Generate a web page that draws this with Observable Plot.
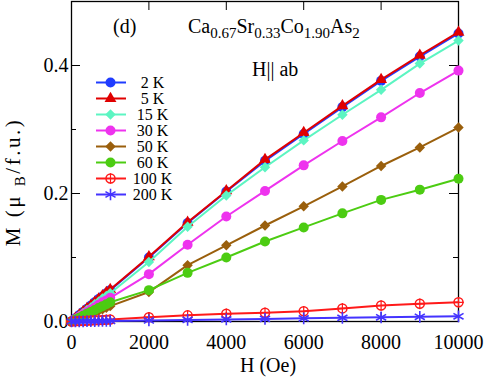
<!DOCTYPE html>
<html><head><meta charset="utf-8">
<script src="https://cdn.jsdelivr.net/npm/d3@7"></script>
<script src="https://cdn.jsdelivr.net/npm/@observablehq/plot@0.6"></script>
<style>
body{margin:0;background:#fff;}
#wrap{position:relative;width:485px;height:380px;font-family:"Liberation Serif","Times New Roman",serif;color:#000;}
#wrap svg{position:absolute;max-width:none !important;}
.ann{position:absolute;white-space:nowrap;line-height:1;font-size:20px;}
.ann sub{font-size:15px;vertical-align:baseline;position:relative;top:5px;}
</style></head>
<body><div id="wrap"></div>
<script>
// ---- data ----
const fields = [0,100,200,300,400,500,600,700,800,900,1000,2000,3000,4000,5000,6000,7000,8000,9000,10000];
const seriesNames = ["2 K","5 K","15 K","30 K","50 K","60 K","100 K","200 K"];
const m2K   = [0,0.005,0.010,0.015,0.020,0.025,0.030,0.035,0.039,0.044,0.049,0.100,0.154,0.203,0.251,0.293,0.335,0.376,0.414,0.450];
const m5K   = [0,0.005,0.010,0.015,0.020,0.025,0.030,0.035,0.040,0.045,0.050,0.101,0.155,0.204,0.253,0.295,0.337,0.378,0.416,0.452];
const m15K  = [0,0.0045,0.009,0.0135,0.018,0.022,0.027,0.031,0.036,0.040,0.044,0.093,0.148,0.197,0.241,0.283,0.323,0.362,0.403,0.439];
const m30K  = [0,0.0037,0.0074,0.011,0.0148,0.0185,0.022,0.026,0.030,0.033,0.037,0.074,0.120,0.164,0.204,0.244,0.282,0.319,0.357,0.392];
const m50K  = [0,0.0024,0.0048,0.0072,0.0096,0.012,0.0144,0.0168,0.019,0.0215,0.024,0.046,0.088,0.119,0.150,0.180,0.211,0.243,0.272,0.303];
const m60K  = [0,0.003,0.006,0.009,0.012,0.015,0.018,0.021,0.024,0.027,0.030,0.049,0.076,0.100,0.125,0.147,0.169,0.190,0.206,0.223];
const m100K = [0,0.0003,0.0006,0.0009,0.0012,0.0015,0.0018,0.0021,0.0024,0.0027,0.0030,0.0067,0.0096,0.012,0.0138,0.016,0.0205,0.025,0.0276,0.030];
const m200K = [0,0.0001,0.0002,0.0003,0.0004,0.0005,0.0006,0.0007,0.0008,0.0009,0.0009,0.0017,0.0025,0.0033,0.0041,0.0049,0.0057,0.0065,0.0073,0.0081];
const seriesValues = [m2K,m5K,m15K,m30K,m50K,m60K,m100K,m200K];
const colors = ["#1f3cff","#e00000","#5cf5c2","#ee33ee","#9a5f0c","#4ccc12","#ff1a1a","#4433ff"];
const symbols = ["circle","triangle","diamond2","circle","diamond2","circle","circle","asterisk"];
const xTicks = [0,2000,4000,6000,8000,10000];
const yMajor = [0,0.2,0.4];
const yMinor = [0.1,0.3];

// ---- layout ----
const W = 485, Ht = 380, mL = 71, mR = 27, mT = 1, mB = 59;
const iW = W - mL - mR, iH = Ht - mT - mB;
const font = "Liberation Serif";

function seriesMarks(i, rows, xAcc, yAcc, r) {
  const c = colors[i], s = symbols[i];
  const out = [];
  if (s === "asterisk") {
    out.push(Plot.dot(rows, {x: xAcc, y: yAcc, symbol: "asterisk", r: r + 0.5, stroke: c, fill: "none", strokeWidth: 1.6}));
  } else if (i === 6) {
    out.push(Plot.dot(rows, {x: xAcc, y: yAcc, symbol: "circle", r: r - 0.5, stroke: c, fill: "none", strokeWidth: 1.5}));
    out.push(Plot.dot(rows, {x: xAcc, y: yAcc, symbol: "plus", r: r - 1.5, stroke: c, fill: "none", strokeWidth: 1.2}));
  } else {
    let rr = r;
    if (s === "triangle") rr = r - 0.6;
    if (s === "diamond2") rr = r - 0.3;
    out.push(Plot.dot(rows, {x: xAcc, y: yAcc, symbol: s, r: rr, fill: c, stroke: "none"}));
  }
  return out;
}

const marks = [];
// inward ticks on all four sides
marks.push(Plot.ruleX(xTicks, {x: d => d, insetTop: iH - 9, stroke: "#000"}));
marks.push(Plot.ruleX(xTicks, {x: d => d, insetBottom: iH - 9, stroke: "#000"}));
marks.push(Plot.ruleY(yMajor, {y: d => d, insetRight: iW - 9, stroke: "#000"}));
marks.push(Plot.ruleY(yMajor, {y: d => d, insetLeft: iW - 9, stroke: "#000"}));
marks.push(Plot.ruleY(yMinor, {y: d => d, insetRight: iW - 5, stroke: "#000"}));
marks.push(Plot.ruleY(yMinor, {y: d => d, insetLeft: iW - 5, stroke: "#000"}));
marks.push(Plot.frame({stroke: "#000", strokeWidth: 1.3}));
marks.push(Plot.axisX({ticks: xTicks, tickSize: 0, tickPadding: 13, tickFormat: d3.format("d"), label: null, fontSize: 20, fontFamily: font}));
marks.push(Plot.axisY({ticks: yMajor, tickSize: 0, tickPadding: 3, tickFormat: d3.format(".1f"), label: null, fontSize: 20, fontFamily: font}));

seriesValues.forEach((vals, i) => {
  const rows = fields.map((h, j) => ({H: h, M: vals[j]}));
  marks.push(Plot.line(rows, {x: "H", y: "M", stroke: colors[i], strokeWidth: 2}));
  marks.push(...seriesMarks(i, rows, "H", "M", 5));
});

const chart = Plot.plot({
  width: W, height: Ht,
  marginLeft: mL, marginRight: mR, marginTop: mT, marginBottom: mB,
  x: {domain: [0, 10000]},
  y: {domain: [0, 0.5]},
  style: {background: "transparent", overflow: "visible"},
  marks
});
chart.style.left = "0px"; chart.style.top = "0px";

// axis titles with subscripts
const svg = d3.select(chart);
svg.append("text").attr("x", 268).attr("y", 372).attr("text-anchor", "middle")
  .attr("font-size", 20).attr("fill", "#000").text("H (Oe)");
const yl = svg.append("text").attr("transform", "translate(20,182) rotate(-90)")
  .attr("text-anchor", "middle").attr("font-size", 21).attr("letter-spacing", 2.5).attr("fill", "#000");
yl.append("tspan").text("M (\u03bc ");
yl.append("tspan").attr("font-size", 15).attr("dy", 5).text("B");
yl.append("tspan").attr("dy", -5).text("/f.u.)");

// legend (separate small plot)
const legMarks = [];
seriesNames.forEach((name, i) => {
  legMarks.push(Plot.ruleY([name], {y: d => d, x1: () => 6, x2: () => 36, stroke: colors[i], strokeWidth: 2}));
  legMarks.push(...seriesMarks(i, [name], () => 20, d => d, 5));
});
legMarks.push(Plot.text(seriesNames, {x: () => 62, y: d => d, text: d => d, fontSize: 16, fontFamily: font, fill: "#000", textAnchor: "middle"}));
const legend = Plot.plot({
  width: 90, height: 155, margin: 0,
  x: {domain: [0, 90], range: [0, 90], axis: null},
  y: {type: "point", domain: seriesNames, range: [10, 145], axis: null},
  style: {background: "transparent", overflow: "visible"},
  marks: legMarks
});
legend.style.left = "90px"; legend.style.top = "60px";

const wrap = document.getElementById("wrap");
wrap.appendChild(chart);
wrap.appendChild(legend);
// force serif font on every svg text
d3.selectAll("#wrap svg").attr("font-family", font).style("font-family", font, "important");
d3.selectAll("#wrap svg text, #wrap svg tspan").attr("font-family", font).style("font-family", font, "important");

function ann(html, left, top) {
  const d = document.createElement("div");
  d.className = "ann"; d.innerHTML = html;
  d.style.left = left + "px"; d.style.top = top + "px";
  wrap.appendChild(d);
}
ann("(d)", 113, 16);
ann("Ca<sub>0.67</sub>Sr<sub>0.33</sub>Co<sub>1.90</sub>As<sub>2</sub>", 188, 16);
ann("H|| ab", 252, 59);
</script>
</body></html>
